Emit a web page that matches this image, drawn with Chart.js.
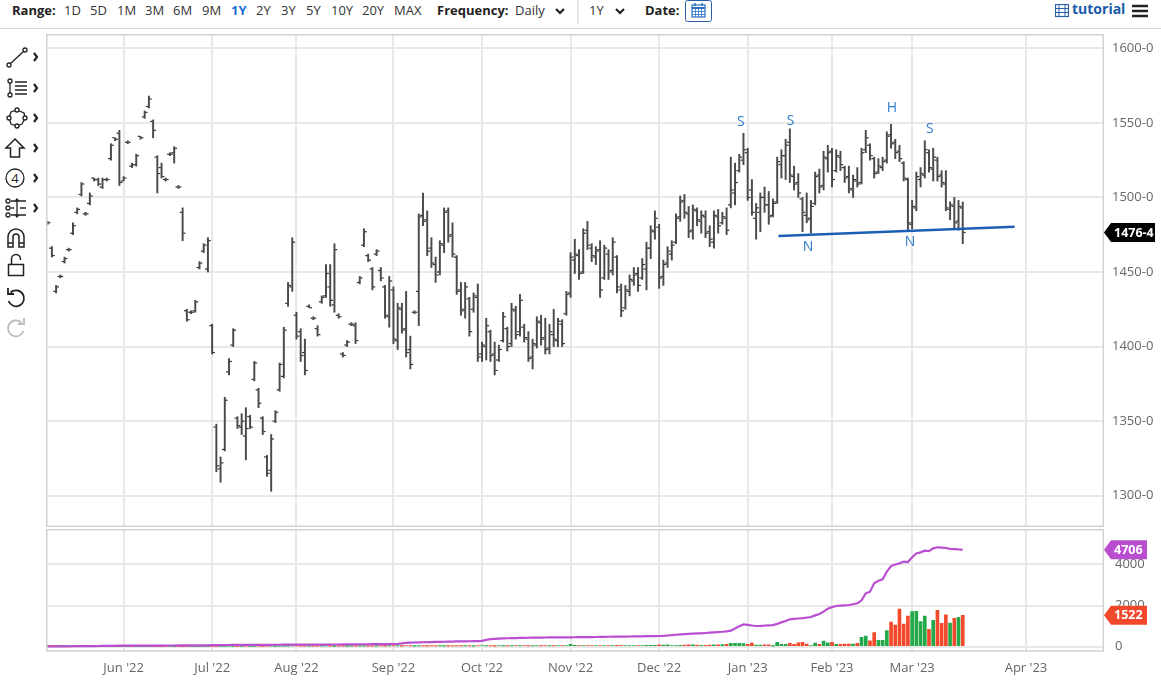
<!DOCTYPE html>
<html>
<head>
<meta charset="utf-8">
<script src="https://cdn.jsdelivr.net/npm/chart.js@4.4.1/dist/chart.umd.min.js"></script>
<style>
  body { margin: 0; width: 1161px; height: 694px; overflow: hidden; background: #fff; position: relative; font-family: 'Open Sans', sans-serif; }
  .topbar { position: absolute; left: 0; top: 0; width: 1161px; height: 28px; border-bottom: 1px solid #d9d9d9; font-size: 13px; color: #333; }
  .topbar span { position: absolute; top: 1px; line-height: 18px; white-space: nowrap; }
  .b { font-weight: 700; color: #222; }
  .sel { color: #1a6fd0; font-weight: 700; }
  .topbar svg { position: absolute; }
  #price { position: absolute; left: 46px; top: 34px; }
  #volume { position: absolute; left: 46px; top: 529px; }
  #tools { position: absolute; left: 0; top: 0; }
</style>
</head>
<body>
<div class="topbar">
  <span class="b" style="left:12px">Range:</span>
  <span style="left:64px">1D</span>
  <span style="left:90px">5D</span>
  <span style="left:117px">1M</span>
  <span style="left:145px">3M</span>
  <span style="left:173px">6M</span>
  <span style="left:202px">9M</span>
  <span class="sel" style="left:231px">1Y</span>
  <span style="left:256px">2Y</span>
  <span style="left:281px">3Y</span>
  <span style="left:306px">5Y</span>
  <span style="left:331px">10Y</span>
  <span style="left:362px">20Y</span>
  <span style="left:394px">MAX</span>
  <span class="b" style="left:437px">Frequency:</span>
  <span style="left:515px">Daily</span>
  <svg style="left:554px;top:6px" width="12" height="10"><polyline points="2,3 6,7 10,3" fill="none" stroke="#222" stroke-width="2.2"/></svg>
  <svg style="left:577px;top:0" width="2" height="24"><line x1="1" y1="0" x2="1" y2="24" stroke="#ccc"/></svg>
  <span style="left:589px">1Y</span>
  <svg style="left:614px;top:6px" width="12" height="10"><polyline points="2,3 6,7 10,3" fill="none" stroke="#222" stroke-width="2.2"/></svg>
  <span class="b" style="left:645px">Date:</span>
  <svg style="left:685px;top:0" width="27" height="22">
    <rect x="0.5" y="0.5" width="26" height="21" rx="2" fill="#fff" stroke="#2a5fa8"/>
    <rect x="7" y="5" width="13" height="12" fill="#fff" stroke="#2a6fc0" stroke-width="1.2"/>
    <line x1="7" y1="8" x2="20" y2="8" stroke="#2a6fc0" stroke-width="2"/>
    <line x1="10" y1="3" x2="10" y2="6" stroke="#2a6fc0" stroke-width="1.5"/>
    <line x1="17" y1="3" x2="17" y2="6" stroke="#2a6fc0" stroke-width="1.5"/>
    <path d="M7 11.5H20M7 14.5H20M10.5 8V17M13.5 8V17M16.5 8V17" stroke="#2a6fc0" stroke-width="0.8"/>
  </svg>
  <svg style="left:1055px;top:4px" width="14" height="14">
    <rect x="0.5" y="0.5" width="13" height="12" fill="#fff" stroke="#2a5fa8" stroke-width="1.2"/>
    <path d="M4 0.5V12.5M10 0.5V12.5M0.5 4.5H13.5M0.5 8.5H13.5" stroke="#2a5fa8" stroke-width="1"/>
  </svg>
  <span style="left:1072px;top:0;font-size:14px;font-weight:700;color:#1a5aa8">tutorial</span>
  <svg style="left:1132px;top:4px" width="16" height="14"><path d="M0 2H16M0 7H16M0 12H16" stroke="#222" stroke-width="2.6"/></svg>
</div>

<svg id="tools" width="46" height="345" fill="none" stroke="#222" stroke-width="1.3">
  <!-- trend line -->
  <line x1="10" y1="64" x2="24" y2="51"/>
  <circle cx="9" cy="65" r="2" fill="#fff"/><circle cx="25" cy="50" r="2" fill="#fff"/>
  <!-- fib -->
  <circle cx="10" cy="81" r="2" fill="#fff"/><circle cx="10" cy="95" r="2" fill="#fff"/>
  <path d="M10 83V93M15 82H27M15 86H27M15 90H27M15 94H27"/>
  <!-- shapes -->
  <path d="M17 110L24 113L25 118L22 124L17 126L11 124L9 118L11 112Z"/>
  <circle cx="17" cy="110" r="2" fill="#fff"/><circle cx="25" cy="118" r="2" fill="#fff"/>
  <circle cx="17" cy="126" r="2" fill="#fff"/><circle cx="9" cy="118" r="2" fill="#fff"/>
  <!-- arrow -->
  <path d="M15 139L24 148H19.5V157H10.5V148H6Z" stroke-width="1.5"/>
  <!-- number -->
  <circle cx="15" cy="178" r="9"/>
  <text x="15" y="183" font-size="13" text-anchor="middle" fill="#222" stroke="none" font-family="Open Sans">4</text>
  <!-- measure -->
  <circle cx="8" cy="201" r="2" fill="#fff"/><circle cx="8" cy="208" r="2" fill="#fff"/><circle cx="8" cy="215" r="2" fill="#fff"/>
  <path d="M11 201H26M11 208H14M20 208H26M11 215H26M17 199V217M15 201.5L17 199L19 201.5M15 214.5L17 217L19 214.5"/>
  <!-- magnet -->
  <path d="M8 247V237A8 8 0 0 1 24 237V247H19V237A3 3 0 0 0 13 237V247Z" stroke-width="1.5"/>
  <path d="M8 243H13M19 243H24" stroke-width="1.5"/>
  <!-- lock -->
  <rect x="8.5" y="264.5" width="15" height="11" stroke-width="1.5"/>
  <path d="M11.5 264.5V259A4.5 4.5 0 0 1 20.5 259V260" stroke-width="1.5"/>
  <!-- undo -->
  <path d="M10.5 292.5A8 8 0 1 1 8.5 301" stroke-width="1.8"/>
  <path d="M8 288V294H14" stroke-width="1.8"/>
  <!-- redo -->
  <path d="M21.5 322.5A8 8 0 1 0 23.5 331" stroke="#bbb" stroke-width="1.8"/>
  <path d="M24 318V324H18" stroke="#bbb" stroke-width="1.8"/>
  <!-- chevrons -->
  <g stroke-width="2.2">
    <polyline points="34,53 37,57 34,61"/>
    <polyline points="34,84 37,88 34,92"/>
    <polyline points="34,114 37,118 34,122"/>
    <polyline points="34,144 37,148 34,152"/>
    <polyline points="34,174 37,178 34,182"/>
    <polyline points="34,204 37,208 34,212"/>
  </g>
</svg>

<canvas id="price" width="1115" height="493"></canvas>
<canvas id="volume" width="1115" height="165"></canvas>

<script>
// bar index of the first session of each month, and its label
const monthTicks = [18, 39, 59, 82, 103, 124, 145, 166, 186, 205, 232];
const monthLabels = ["Jun '22", "Jul '22", "Aug '22", "Sep '22", "Oct '22", "Nov '22",
  "Dec '22", "Jan '23", "Feb '23", "Mar '23", "Apr '23"];
const priceTicks = [1300, 1350, 1400, 1450, 1500, 1550, 1600];
const volumeTicks = [0, 2000, 4000];

// daily OHLC, one entry per session (index 0 = first bar on the left)
const highs = [
  1484,1467,1441,1448,1460,1466,1483,1493,1510,1490,
  1503,1513,1513,1513,1513,1536,1540,1545,1514,1538,
  1523,1529,1541,1558,1568,1552,1528,1523,1513,1530,
  1534,1508,1493,1425,1424,1431,1457,1469,1473,1415,
  1348,1326,1366,1392,1412,1353,1355,1359,1354,1390,
  1372,1353,1327,1341,1357,1389,1413,1443,1473,1423,
  1412,1405,1428,1420,1414,1434,1455,1455,1469,1422,
  1396,1404,1416,1416,1447,1479,1462,1453,1465,1453,
  1441,1447,1440,1429,1429,1437,1407,1424,1489,1503,
  1491,1473,1460,1471,1493,1493,1483,1461,1443,1443,
  1433,1436,1442,1403,1419,1411,1403,1401,1423,1413,
  1429,1427,1435,1415,1410,1405,1420,1421,1419,1415,
  1425,1419,1418,1437,1463,1472,1465,1479,1484,1469,
  1467,1471,1468,1465,1473,1461,1442,1441,1448,1453,
  1453,1459,1470,1481,1491,1482,1458,1467,1471,1489,
  1501,1502,1494,1495,1493,1491,1491,1481,1491,1492,
  1490,1493,1527,1523,1529,1543,1533,1512,1496,1503,
  1507,1504,1499,1527,1532,1539,1546,1521,1516,1500,
  1503,1498,1517,1519,1531,1535,1533,1532,1531,1521,
  1521,1515,1520,1533,1545,1536,1527,1526,1527,1544,
  1549,1539,1535,1524,1513,1498,1517,1520,1538,1532,
  1533,1527,1518,1518,1497,1500,1498,1497
];
const lows = [
  1482,1460,1436,1446,1456,1464,1475,1489,1501,1488,
  1495,1511,1508,1506,1511,1525,1538,1508,1511,1536,
  1520,1521,1539,1553,1560,1540,1503,1513,1511,1528,
  1523,1506,1471,1417,1422,1423,1452,1463,1450,1395,
  1316,1309,1330,1381,1400,1345,1341,1324,1345,1377,
  1359,1341,1313,1303,1349,1370,1379,1427,1437,1405,
  1390,1381,1426,1418,1407,1429,1433,1427,1423,1419,
  1393,1400,1414,1402,1442,1467,1457,1438,1461,1444,
  1419,1413,1402,1398,1409,1393,1385,1422,1414,1481,
  1461,1453,1443,1448,1463,1470,1460,1435,1421,1419,
  1407,1423,1390,1390,1391,1390,1381,1390,1403,1397,
  1400,1405,1407,1403,1390,1385,1399,1401,1395,1395,
  1400,1400,1400,1421,1433,1449,1445,1449,1465,1457,
  1455,1433,1445,1445,1448,1436,1420,1425,1434,1441,
  1437,1445,1438,1459,1472,1439,1441,1453,1458,1469,
  1484,1486,1473,1472,1481,1476,1473,1467,1466,1476,
  1482,1475,1493,1495,1517,1522,1498,1488,1472,1477,
  1490,1482,1487,1496,1513,1512,1510,1505,1500,1477,
  1483,1476,1495,1503,1505,1517,1507,1517,1518,1510,
  1503,1500,1507,1509,1530,1525,1513,1516,1518,1523,
  1533,1526,1524,1511,1478,1479,1491,1507,1513,1517,
  1511,1511,1507,1491,1485,1479,1478,1469
];
const opens = [
  1483,1466,1437,1447,1457,1465,1476,1490,1502,1489,
  1496,1513,1512,1507,1512,1526,1540,1543,1511,1537,
  1521,1522,1541,1554,1561,1551,1527,1520,1512,1529,
  1530,1507,1490,1424,1423,1424,1453,1464,1452,1414,
  1346,1318,1331,1383,1401,1352,1346,1340,1353,1378,
  1371,1352,1326,1317,1350,1371,1380,1429,1440,1421,
  1410,1396,1427,1419,1412,1430,1434,1440,1428,1421,
  1395,1401,1415,1414,1443,1468,1461,1452,1462,1451,
  1440,1420,1438,1404,1425,1412,1398,1423,1437,1488,
  1485,1466,1455,1450,1468,1491,1475,1460,1438,1425,
  1432,1425,1433,1395,1400,1410,1395,1391,1404,1412,
  1402,1424,1410,1413,1405,1393,1401,1416,1406,1399,
  1408,1404,1415,1422,1436,1458,1461,1450,1478,1466,
  1460,1465,1446,1462,1451,1460,1438,1426,1437,1444,
  1449,1446,1452,1466,1477,1480,1447,1456,1462,1470,
  1487,1498,1489,1478,1491,1484,1487,1477,1470,1487,
  1483,1486,1495,1503,1518,1525,1530,1505,1486,1490,
  1500,1495,1488,1497,1522,1528,1537,1514,1510,1499,
  1488,1486,1496,1515,1508,1526,1531,1518,1527,1520,
  1514,1505,1511,1510,1532,1535,1526,1517,1520,1525,
  1542,1537,1531,1523,1512,1482,1493,1512,1515,1530,
  1519,1525,1515,1509,1492,1494,1484,1493
];
const closes = [
  1483,1461,1440,1447,1459,1465,1481,1492,1509,1489,
  1501,1512,1509,1512,1512,1535,1539,1510,1513,1537,
  1522,1528,1540,1557,1566,1545,1516,1514,1512,1529,
  1533,1507,1476,1418,1423,1430,1456,1468,1471,1396,
  1320,1322,1364,1390,1411,1347,1350,1345,1346,1389,
  1362,1343,1315,1338,1356,1388,1411,1441,1470,1407,
  1394,1384,1426,1419,1408,1433,1449,1431,1465,1420,
  1394,1403,1415,1404,1446,1477,1458,1440,1464,1446,
  1421,1444,1405,1426,1411,1396,1388,1423,1487,1484,
  1464,1456,1448,1469,1490,1474,1462,1437,1424,1440,
  1410,1434,1393,1401,1414,1394,1384,1398,1420,1400,
  1425,1408,1431,1406,1392,1402,1417,1405,1398,1410,
  1405,1417,1402,1435,1460,1462,1449,1476,1468,1461,
  1464,1438,1466,1450,1470,1440,1424,1438,1445,1448,
  1441,1455,1466,1478,1486,1446,1455,1464,1468,1486,
  1497,1490,1477,1492,1485,1488,1476,1472,1488,1481,
  1487,1478,1505,1510,1527,1532,1500,1490,1493,1500,
  1495,1487,1496,1524,1528,1535,1515,1509,1503,1490,
  1485,1494,1514,1507,1527,1530,1512,1528,1522,1513,
  1506,1512,1509,1530,1540,1528,1516,1521,1524,1541,
  1536,1530,1526,1513,1483,1494,1514,1516,1532,1520,
  1527,1514,1510,1493,1495,1483,1494,1476.5
];
const volumes = [
  5,3,4,6,2,5,8,4,6,3,
  5,7,4,6,5,8,6,4,5,7,
  6,4,8,5,6,9,7,5,12,8,
  6,10,7,9,11,6,8,10,12,10,
  12,8,15,20,14,10,18,25,12,16,
  20,14,30,22,18,24,28,20,35,40,
  30,25,20,28,22,30,35,26,18,24,
  20,16,22,30,26,20,28,24,30,35,
  28,32,40,35,30,45,38,30,42,36,
  28,32,40,35,30,28,36,40,32,38,
  34,30,45,55,40,35,30,45,38,42,
  36,50,40,44,38,35,48,40,45,42,
  38,50,46,60,120,70,50,45,55,60,
  48,52,58,45,50,62,55,48,52,60,
  55,58,62,70,65,90,75,85,60,55,
  70,80,95,85,75,65,70,80,85,90,
  100,120,165,165,165,150,110,180,80,80,
  85,95,30,210,120,120,165,110,190,210,
  130,60,180,120,270,190,210,120,110,130,
  130,130,165,455,520,290,680,310,310,780,
  1200,1050,1830,1100,1490,1700,1720,1215,1490,845,
  1280,1765,1135,1550,1150,1380,1430,1522
];
const openInterest = [
  15,15,16,17,18,20,22,24,26,28,
  30,32,34,36,38,40,44,48,
  50,50,51,52,52,53,54,55,56,57,58,58,59,60,61,62,62,63,64,65,66,
  78,80,81,82,83,84,85,86,87,88,89,90,91,92,93,94,95,96,97,98,
  100,100,101,102,103,104,104,105,106,107,108,110,111,112,114,116,118,120,122,124,126,128,129,
  130,140,160,190,200,205,210,215,220,225,230,235,240,245,250,255,258,262,265,268,272,
  280,330,370,380,390,400,410,415,420,425,430,435,440,442,444,446,448,450,452,454,455,
  455,458,460,462,465,468,470,474,478,482,485,488,490,493,496,500,503,506,509,512,515,
  520,530,545,560,580,600,615,625,635,645,650,665,680,695,710,725,745,780,880,990,1080,
  1060,1030,1005,1010,1020,1035,1050,1110,1180,1250,1330,1350,1370,1385,1410,1440,1520,1590,1700,1845,1920,
  1975,1995,2010,2025,2060,2105,2250,2590,2670,3075,3200,3270,3640,3915,3990,4045,4125,4110,
  4340,4530,4580,4660,4640,4775,4825,4810,4790,4750,4740,4720,4706
];

// head & shoulders markup drawn on the chart
const patternLabels = ['S', 'S', 'H', 'S', 'N', 'N'];
const patternIdx = [164.4, 176.2, 200.2, 209.2, 180.3, 204.5];
const patternPrice = [1550.4, 1551.1, 1559.8, 1545.8, 1466.7, 1470.1];
const necklineIdx = [173.3, 229.3];
const necklinePrice = [1474.1, 1480.3];

const GRID = '#e8e8e8';
const GREEN = '#22a849';
const RED = '#f2492c';
const PURPLE = '#b94fd0';
const BAR = '#4a4a4a';

Chart.defaults.font.family = "'Open Sans', sans-serif";
Chart.defaults.font.size = 13;
Chart.defaults.color = '#666';

const fmtPrice = p => Math.floor(p) + '-' + Math.round((p - Math.floor(p)) * 8);

function drawTag(ctx, x, y, w, text, color) {
  const h = 19;
  ctx.save();
  ctx.fillStyle = color;
  ctx.beginPath();
  ctx.moveTo(x, y);
  ctx.lineTo(x + 7, y - h / 2);
  ctx.lineTo(x + w, y - h / 2);
  ctx.lineTo(x + w, y + h / 2);
  ctx.lineTo(x + 7, y + h / 2);
  ctx.closePath();
  ctx.fill();
  ctx.fillStyle = '#fff';
  ctx.font = "bold 12.5px 'Open Sans'";
  ctx.textBaseline = 'middle';
  ctx.textAlign = 'left';
  ctx.fillText(text, x + 10, y + 0.5);
  ctx.restore();
}

const framePlugin = {
  id: 'frame',
  afterDraw(chart) {
    const { ctx, chartArea: a } = chart;
    ctx.save();
    ctx.strokeStyle = '#d2d2d2';
    ctx.lineWidth = 1.5;
    ctx.strokeRect(a.left + 0.75, a.top + 0.75, a.right - a.left - 1.5, a.bottom - a.top - 1.5);
    ctx.restore();
  }
};

function xAxis(showLabels) {
  return {
    type: 'linear',
    min: -0.4,
    max: 250.5,
    offset: false,
    afterBuildTicks: s => { s.ticks = monthTicks.map(v => ({ value: v })); },
    afterFit: s => {
      s.height = showLabels ? 42.3 : 0;
      s.paddingLeft = 0;
      s.paddingRight = 0;
    },
    grid: { color: GRID, lineWidth: 2, drawTicks: false, offset: false },
    border: { display: false },
    ticks: {
      display: showLabels, padding: 9, autoSkip: false, maxRotation: 0,
      callback: (v, i) => monthLabels[i]
    }
  };
}

function rightAxis(min, max, values, pad, fmt) {
  return {
    position: 'right',
    min: min,
    max: max,
    afterBuildTicks: s => { s.ticks = values.map(v => ({ value: v })); },
    afterFit: s => {
      s.width = 57;
      s.paddingTop = 0;
      s.paddingBottom = 0;
    },
    grid: { color: GRID, lineWidth: 2, drawTicks: false },
    border: { display: false },
    ticks: { padding: pad, callback: fmt }
  };
}

// price panel
const patternPlugin = {
  id: 'pattern',
  afterDatasetsDraw(chart) {
    const { ctx, scales: { x, y } } = chart;
    ctx.save();
    ctx.strokeStyle = '#1a5fb4';
    ctx.lineWidth = 2.5;
    ctx.beginPath();
    ctx.moveTo(x.getPixelForValue(necklineIdx[0]), y.getPixelForValue(necklinePrice[0]));
    ctx.lineTo(x.getPixelForValue(necklineIdx[1]), y.getPixelForValue(necklinePrice[1]));
    ctx.stroke();
    ctx.fillStyle = '#2f7ccc';
    ctx.font = "14px 'Open Sans'";
    ctx.textAlign = 'center';
    ctx.textBaseline = 'middle';
    patternLabels.forEach((t, i) => {
      ctx.fillText(t, x.getPixelForValue(patternIdx[i]), y.getPixelForValue(patternPrice[i]));
    });
    ctx.restore();
  },
  afterDraw(chart) {
    const { ctx, chartArea, scales: { y } } = chart;
    const last = closes[closes.length - 1];
    drawTag(ctx, chartArea.right, y.getPixelForValue(last), 51, fmtPrice(last), '#000');
  }
};

new Chart(document.getElementById('price'), {
  type: 'bar',
  data: {
    datasets: [
      {
        type: 'scatter',
        data: opens.map((o, i) => ({ x: i - 0.42, y: o })),
        pointStyle: 'line', radius: 1.1, borderWidth: 1.2, borderColor: '#333'
      },
      {
        type: 'scatter',
        data: closes.map((c, i) => ({ x: i + 0.42, y: c })),
        pointStyle: 'line', radius: 1.1, borderWidth: 1.2, borderColor: '#333'
      },
      {
        type: 'bar',
        data: lows.map((l, i) => ({ x: i, y: [l, highs[i]] })),
        backgroundColor: BAR,
        barThickness: 1.3,
        minBarLength: 1,
        grouped: false
      }
    ]
  },
  options: {
    responsive: false,
    animation: false,
    events: [],
    layout: { padding: 0, autoPadding: false },
    plugins: { legend: { display: false }, tooltip: { enabled: false } },
    scales: {
      x: xAxis(false),
      y: rightAxis(1279, 1609.6, priceTicks, 8, v => v + '-0')
    }
  },
  plugins: [framePlugin, patternPlugin]
});

// volume / open interest panel
const volumeColors = volumes.map((v, i) => (i === 0 || closes[i] >= closes[i - 1]) ? GREEN : RED);

const volumeTagPlugin = {
  id: 'volumeTags',
  afterDraw(chart) {
    const { ctx, chartArea, scales: { y } } = chart;
    const oi = openInterest[openInterest.length - 1];
    const vol = volumes[volumes.length - 1];
    drawTag(ctx, chartArea.right, y.getPixelForValue(oi), 43, String(oi), PURPLE);
    drawTag(ctx, chartArea.right, y.getPixelForValue(vol), 43, String(vol), RED);
  }
};

new Chart(document.getElementById('volume'), {
  type: 'bar',
  data: {
    datasets: [
      {
        type: 'line',
        data: openInterest.map((v, i) => ({ x: i, y: v })),
        borderColor: PURPLE,
        borderWidth: 2.2,
        pointRadius: 0,
        tension: 0
      },
      {
        type: 'bar',
        data: volumes.map((v, i) => ({ x: i, y: v })),
        backgroundColor: volumeColors,
        barThickness: 3,
        grouped: false
      }
    ]
  },
  options: {
    responsive: false,
    animation: false,
    events: [],
    layout: { padding: 0, autoPadding: false },
    plugins: { legend: { display: false }, tooltip: { enabled: false } },
    scales: {
      x: xAxis(true),
      y: rightAxis(-242.7, 5713.6, volumeTicks, 11, v => String(v))
    }
  },
  plugins: [framePlugin, volumeTagPlugin]
});
</script>
</body>
</html>
